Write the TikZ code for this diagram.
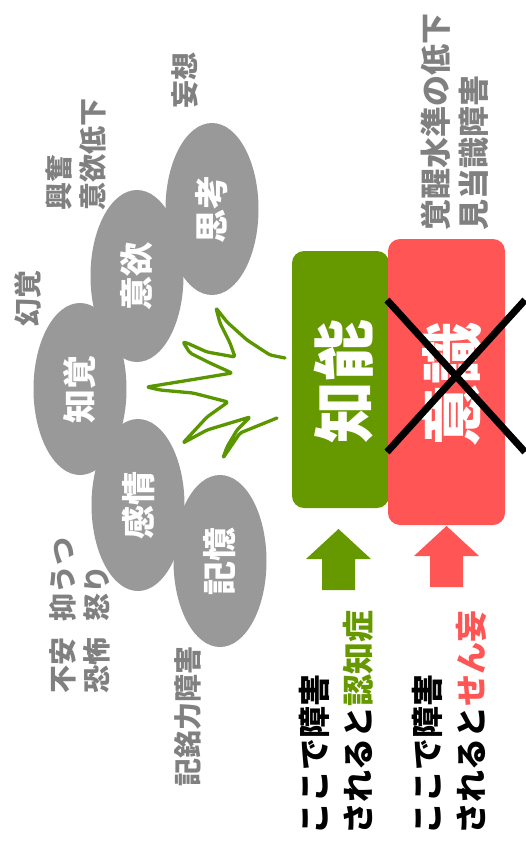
\documentclass[tikz,border=0pt]{standalone}
\usepackage{fontspec}
\newfontfamily\jp{Noto Sans CJK JP}
\usetikzlibrary{shapes.geometric}
\definecolor{bubblegray}{RGB}{153,153,153}
\definecolor{notegray}{RGB}{128,128,128}
\definecolor{intellectgreen}{RGB}{102,153,0}
\definecolor{sprout}{RGB}{90,150,0}
\definecolor{alertred}{RGB}{255,85,85}
\tikzset{bubble/.style={ellipse,fill=bubblegray,text=white,rotate=90,inner sep=0pt,minimum width=172pt,minimum height=93pt,font=\jp\bfseries\fontsize{34}{34}\selectfont}}
\tikzset{symptom/.style={rotate=90,text=notegray,align=left,inner sep=0pt,font=\jp\bfseries\fontsize{28}{34}\selectfont}}
\tikzset{block/.style={rectangle,rounded corners=12pt,rotate=90,text=white,inner sep=0pt,font=\jp\bfseries\fontsize{62}{62}\selectfont}}
\tikzset{caption/.style={rotate=90,anchor=west,align=left,inner sep=0pt,font=\jp\bfseries\fontsize{32}{44}\selectfont}}

\begin{document}
\begin{tikzpicture}[x=1pt,y=-1pt]
\useasboundingbox (0,0) rectangle (525,849);

% mental functions
\node[bubble] (thinking)   at (212,209) {思考};
\node[bubble] (motivation) at (137,276) {意欲};
\node[bubble] (perception) at (80,389)  {知覚};
\node[bubble] (emotion)    at (138,505) {感情};
\node[bubble] (memory)     at (220,561) {記憶};

% symptoms
\node[symptom] (delusion) at (185,80) {妄想};
\node[symptom,anchor=west] (apathy) at (76,211) {興奮\\意欲低下};
\node[symptom] (hallucination) at (28,298) {幻覚};
\node[symptom,anchor=west] (mood) at (80,694) {不安\hspace{0.6em}抑うつ\\恐怖\hspace{0.6em}怒り};
\node[symptom] (amnesia) at (188,716) {記銘力障害};
\node[symptom,anchor=west,font=\jp\bfseries\fontsize{31}{38}\selectfont] (arousal) at (455,231) {覚醒水準の低下\\見当識障害};

% sprout
\draw[sprout,line width=3.3pt,line join=round,line cap=round,rounded corners=2pt]
  (285,358) -- (270,355) -- (247,340) -- (227,322) -- (216,308) -- (220,323) -- (230,343)
  -- (235,357) -- (207,352) -- (187,343) -- (183,342) -- (190,353) -- (210,363) -- (232,373)
  -- (190,380) -- (147,387) -- (160,390) -- (193,393) -- (228,402) -- (207,417) -- (183,443)
  -- (207,430) -- (250,417) -- (237,430) -- (227,447) -- (223,458) -- (240,433) -- (277,418);

% intellect and consciousness
\node[block,fill=intellectgreen,minimum width=257pt,minimum height=97pt] (intellect) at (340.5,379.5) {};
\node[block,fill=alertred,minimum width=286pt,minimum height=117pt] (consciousness) at (446.5,382) {};
\node[block] (intellecttext) at (344,381) {知能};
\node[block] (consciousnesstext) at (452,384) {意識};

\draw[black,line width=7pt] (387,300) -- (525,452);
\draw[black,line width=7pt] (387,452) -- (525,300);

% arrows
\fill[intellectgreen] (306,559) -- (338.5,529) -- (371,559) -- (355,559) -- (355,590) -- (322,590) -- (322,559) -- cycle;
\fill[alertred] (414,556) -- (446.5,526) -- (479,556) -- (463,556) -- (463,587) -- (430,587) -- (430,556) -- cycle;

\node[caption] (dementia) at (336,835) {ここで障害\\されると\textcolor{intellectgreen}{認知症}};
\node[caption] (delirium) at (449.5,835) {ここで障害\\されると\textcolor{alertred}{せん妄}};

\end{tikzpicture}
\end{document}
